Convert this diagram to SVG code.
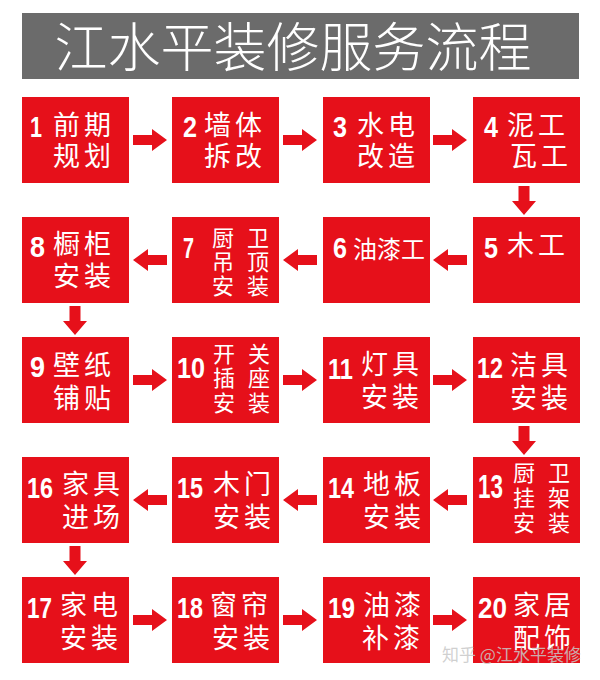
<svg xmlns="http://www.w3.org/2000/svg" xmlns:xlink="http://www.w3.org/1999/xlink" width="600" height="680" viewBox="0 0 600 680">
<style>
.box{fill:#e6101a}
.num{fill:#fff;font-family:"Liberation Sans","Arial",sans-serif;font-weight:bold;font-size:29px}
.cn{fill:#fff;font-family:"Noto Sans CJK SC",sans-serif;font-size:27px;letter-spacing:4px}
.cn3{fill:#fff;font-family:"Noto Sans CJK SC",sans-serif;font-size:22px}
.arrow{fill:#e6101a}
</style>
<defs>
<path id="aR" d="M0,-5 H19 V-11 L34,0 L19,11 V5 H0 Z"/>
<path id="aL" d="M0,-5 H-19 V-11 L-34,0 L-19,11 V5 H0 Z"/>
<path id="aD" d="M-5.5,0 V15 H-12 L0,29 L12,15 H5.5 V0 Z"/>
</defs>
<rect width="600" height="680" fill="#fff"/>
<g id="title">
<rect x="22" y="13" width="557" height="66" fill="#6b6b6b"/>
<text x="293" y="67" text-anchor="middle" fill="#fff" font-family="Noto Sans CJK SC, sans-serif" font-weight="300" font-size="53">江水平装修服务流程</text>
</g>
<g id="connectors" class="arrow">
<use xlink:href="#aR" x="133" y="140"/>
<use xlink:href="#aR" x="283" y="140"/>
<use xlink:href="#aR" x="433" y="140"/>
<use xlink:href="#aD" x="524" y="186"/>
<use xlink:href="#aL" x="467" y="260"/>
<use xlink:href="#aL" x="317" y="260"/>
<use xlink:href="#aL" x="167" y="260"/>
<use xlink:href="#aD" x="75" y="306"/>
<use xlink:href="#aR" x="133" y="380"/>
<use xlink:href="#aR" x="283" y="380"/>
<use xlink:href="#aR" x="433" y="380"/>
<use xlink:href="#aD" x="524" y="426"/>
<use xlink:href="#aL" x="467" y="500"/>
<use xlink:href="#aL" x="317" y="500"/>
<use xlink:href="#aL" x="167" y="500"/>
<use xlink:href="#aD" x="75" y="546"/>
<use xlink:href="#aR" x="133" y="620"/>
<use xlink:href="#aR" x="283" y="620"/>
<use xlink:href="#aR" x="433" y="620"/>
</g>
<g id="n1"><rect class="box" x="22" y="97" width="107" height="86"/>
<text class="num" x="30" y="137" textLength="12" lengthAdjust="spacingAndGlyphs">1</text>
<text class="cn"><tspan x="53" y="135">前期</tspan><tspan x="53" y="166">规划</tspan></text></g>
<g id="n2"><rect class="box" x="172" y="97" width="107" height="86"/>
<text class="num" x="183" y="137" textLength="14" lengthAdjust="spacingAndGlyphs">2</text>
<text class="cn"><tspan x="204" y="135">墙体</tspan><tspan x="204" y="166">拆改</tspan></text></g>
<g id="n3"><rect class="box" x="323" y="97" width="107" height="86"/>
<text class="num" x="333" y="137" textLength="14" lengthAdjust="spacingAndGlyphs">3</text>
<text class="cn"><tspan x="357" y="135">水电</tspan><tspan x="357" y="166">改造</tspan></text></g>
<g id="n4"><rect class="box" x="473" y="97" width="107" height="86"/>
<text class="num" x="484" y="137" textLength="14" lengthAdjust="spacingAndGlyphs">4</text>
<text class="cn"><tspan x="507" y="135">泥工</tspan><tspan x="510" y="166">瓦工</tspan></text></g>
<g id="n5"><rect class="box" x="473" y="217" width="107" height="86"/>
<text class="num" x="484" y="258" textLength="14" lengthAdjust="spacingAndGlyphs">5</text>
<text class="cn" x="507" y="255">木工</text></g>
<g id="n6"><rect class="box" x="323" y="217" width="107" height="86"/>
<text class="num" x="333" y="258" textLength="14" lengthAdjust="spacingAndGlyphs">6</text>
<text class="cn" x="353" y="258" style="font-size:24px;letter-spacing:0">油漆工</text></g>
<g id="n7"><rect class="box" x="172" y="217" width="107" height="86"/>
<text class="num" x="183" y="258" textLength="11" lengthAdjust="spacingAndGlyphs">7</text>
<text class="cn3"><tspan x="212" y="246">厨</tspan><tspan x="247" y="246">卫</tspan><tspan x="212" y="270">吊</tspan><tspan x="247" y="270">顶</tspan><tspan x="212" y="294">安</tspan><tspan x="247" y="294">装</tspan></text></g>
<g id="n8"><rect class="box" x="22" y="217" width="107" height="86"/>
<text class="num" x="30" y="257" textLength="15" lengthAdjust="spacingAndGlyphs">8</text>
<text class="cn"><tspan x="53" y="254">橱柜</tspan><tspan x="53" y="286">安装</tspan></text></g>
<g id="n9"><rect class="box" x="22" y="337" width="107" height="86"/>
<text class="num" x="30" y="377" textLength="15" lengthAdjust="spacingAndGlyphs">9</text>
<text class="cn"><tspan x="53" y="375">壁纸</tspan><tspan x="53" y="408">铺贴</tspan></text></g>
<g id="n10"><rect class="box" x="172" y="337" width="107" height="86"/>
<text class="num" x="177" y="378" textLength="28" lengthAdjust="spacingAndGlyphs">10</text>
<text class="cn3"><tspan x="213" y="362">开</tspan><tspan x="248" y="362">关</tspan><tspan x="213" y="386">插</tspan><tspan x="248" y="386">座</tspan><tspan x="213" y="411">安</tspan><tspan x="248" y="411">装</tspan></text></g>
<g id="n11"><rect class="box" x="323" y="337" width="107" height="86"/>
<text class="num" x="328" y="379" textLength="25" lengthAdjust="spacingAndGlyphs">11</text>
<text class="cn"><tspan x="361" y="374">灯具</tspan><tspan x="361" y="407">安装</tspan></text></g>
<g id="n12"><rect class="box" x="473" y="337" width="107" height="86"/>
<text class="num" x="477" y="378" textLength="26" lengthAdjust="spacingAndGlyphs">12</text>
<text class="cn"><tspan x="510" y="375">洁具</tspan><tspan x="510" y="408">安装</tspan></text></g>
<g id="n13"><rect class="box" x="473" y="457" width="107" height="86"/>
<text class="num" x="478" y="498" textLength="25" lengthAdjust="spacingAndGlyphs" style="font-size:33px">13</text>
<text class="cn3"><tspan x="513" y="481">厨</tspan><tspan x="548" y="481">卫</tspan><tspan x="513" y="506">挂</tspan><tspan x="548" y="506">架</tspan><tspan x="513" y="531">安</tspan><tspan x="548" y="531">装</tspan></text></g>
<g id="n14"><rect class="box" x="323" y="457" width="107" height="86"/>
<text class="num" x="328" y="498" textLength="26" lengthAdjust="spacingAndGlyphs">14</text>
<text class="cn"><tspan x="363" y="494">地板</tspan><tspan x="363" y="527">安装</tspan></text></g>
<g id="n15"><rect class="box" x="172" y="457" width="107" height="86"/>
<text class="num" x="177" y="498" textLength="26" lengthAdjust="spacingAndGlyphs">15</text>
<text class="cn"><tspan x="213" y="494">木门</tspan><tspan x="213" y="527">安装</tspan></text></g>
<g id="n16"><rect class="box" x="22" y="457" width="107" height="86"/>
<text class="num" x="27" y="498" textLength="26" lengthAdjust="spacingAndGlyphs">16</text>
<text class="cn"><tspan x="62" y="494">家具</tspan><tspan x="62" y="527">进场</tspan></text></g>
<g id="n17"><rect class="box" x="22" y="577" width="107" height="86"/>
<text class="num" x="27" y="618" textLength="25" lengthAdjust="spacingAndGlyphs">17</text>
<text class="cn"><tspan x="60" y="615">家电</tspan><tspan x="60" y="648">安装</tspan></text></g>
<g id="n18"><rect class="box" x="172" y="577" width="107" height="86"/>
<text class="num" x="177" y="618" textLength="26" lengthAdjust="spacingAndGlyphs">18</text>
<text class="cn"><tspan x="210" y="615">窗帘</tspan><tspan x="212" y="648">安装</tspan></text></g>
<g id="n19"><rect class="box" x="323" y="577" width="107" height="86"/>
<text class="num" x="328" y="618" textLength="27" lengthAdjust="spacingAndGlyphs">19</text>
<text class="cn"><tspan x="363" y="615">油漆</tspan><tspan x="362" y="648">补漆</tspan></text></g>
<g id="n20"><rect class="box" x="473" y="577" width="107" height="86"/>
<text class="num" x="478" y="618" textLength="29" lengthAdjust="spacingAndGlyphs">20</text>
<text class="cn"><tspan x="513" y="615">家居</tspan><tspan x="513" y="648">配饰</tspan></text></g>
<text id="watermark" x="442" y="661" fill="#c8c8c8" fill-opacity="0.85" font-family="Noto Sans CJK SC, sans-serif" font-size="17">知乎 @江水平装修</text>
</svg>
